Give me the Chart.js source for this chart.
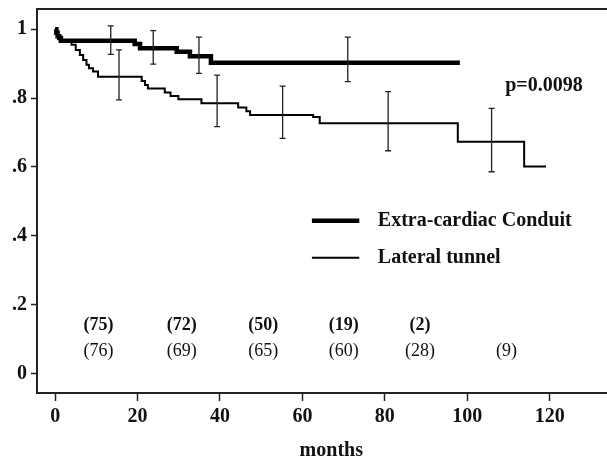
<!DOCTYPE html>
<html>
<head>
<meta charset="utf-8">
<script src="https://cdn.jsdelivr.net/npm/chart.js@4.4.1/dist/chart.umd.min.js"></script>
<style>
  html, body { margin: 0; padding: 0; background: #fff; }
  canvas { display: block; }
</style>
</head>
<body>
<canvas id="km" width="607" height="463"></canvas>
<script>
// Kaplan-Meier steps (months, survival)
const conduitTime = [0, 0.3, 0.6, 1.0, 1.4, 19.3, 20.6, 29.5, 32.7, 37.8, 98.2];
const conduitSurv = [1, 0.99, 0.98, 0.975, 0.967, 0.957, 0.945, 0.935, 0.922, 0.903, 0.903];

const tunnelTime = [0, 0.3, 0.6, 1.0, 1.4, 4.0, 5.0, 6.0, 6.8, 7.6, 8.2, 9.2, 10.4, 21.0, 21.8, 22.5, 26.6, 28.0, 29.9, 35.5, 44.4, 46.4, 47.3, 62.6, 64.2, 97.7, 113.8, 119.1];
const tunnelSurv = [1, 0.99, 0.98, 0.975, 0.967, 0.955, 0.94, 0.925, 0.911, 0.897, 0.887, 0.877, 0.862, 0.85, 0.838, 0.828, 0.816, 0.806, 0.797, 0.785, 0.773, 0.762, 0.751, 0.745, 0.727, 0.673, 0.601, 0.601];

// confidence bars
const conduitBarTime = [13.5, 23.8, 34.9, 71.0];
const conduitBarLow = [0.927, 0.899, 0.872, 0.848];
const conduitBarHigh = [1.010, 0.996, 0.977, 0.977];

const tunnelBarTime = [15.5, 39.3, 55.2, 80.8, 105.9];
const tunnelBarLow = [0.795, 0.717, 0.683, 0.647, 0.586];
const tunnelBarHigh = [0.940, 0.867, 0.835, 0.819, 0.770];

// numbers at risk
const riskTime = [10.5, 30.7, 50.5, 70.0, 88.5, 109.5];
const conduitRisk = [75, 72, 50, 19, 2];
const tunnelRisk = [76, 69, 65, 60, 28, 9];

const xTicks = [0, 20, 40, 60, 80, 100, 120];
const yTicks = [0, 0.2, 0.4, 0.6, 0.8, 1];
const yTickLabels = ['0', '.2', '.4', '.6', '.8', '1'];

const seriesNames = ['Extra-cardiac Conduit', 'Lateral tunnel'];
const pValue = 'p=0.0098';

const serif = "'Liberation Serif', 'Times New Roman', serif";

const toPoints = (xs, ys) => xs.map((x, i) => ({ x: x, y: ys[i] }));

const annotations = {
  id: 'annotations',
  afterDatasetsDraw(chart) {
    const ctx = chart.ctx;
    const xs = chart.scales.x;
    const ys = chart.scales.y;
    const px = v => xs.getPixelForValue(v);
    const py = v => ys.getPixelForValue(v);

    ctx.save();
    // error bars
    ctx.strokeStyle = '#222';
    ctx.lineWidth = 1.3;
    const bars = (t, lo, hi) => {
      t.forEach((tt, i) => {
        const x = px(tt), y1 = py(lo[i]), y2 = py(hi[i]);
        ctx.beginPath();
        ctx.moveTo(x, y1); ctx.lineTo(x, y2);
        ctx.moveTo(x - 3, y1); ctx.lineTo(x + 3, y1);
        ctx.moveTo(x - 3, y2); ctx.lineTo(x + 3, y2);
        ctx.stroke();
      });
    };
    bars(conduitBarTime, conduitBarLow, conduitBarHigh);
    bars(tunnelBarTime, tunnelBarLow, tunnelBarHigh);

    // p value
    ctx.fillStyle = '#111';
    ctx.textBaseline = 'middle';
    ctx.textAlign = 'center';
    ctx.font = 'bold 20px ' + serif;
    ctx.fillText(pValue, px(118.6), py(0.835));

    // legend
    const legY = [0.4436, 0.336];
    const legW = [4.5, 2];
    legY.forEach((ly, i) => {
      ctx.strokeStyle = '#000';
      ctx.lineWidth = legW[i];
      ctx.beginPath();
      ctx.moveTo(px(62.3), py(ly));
      ctx.lineTo(px(73.8), py(ly));
      ctx.stroke();
      ctx.textAlign = 'left';
      ctx.fillText(seriesNames[i], px(78.3), py(ly));
    });

    // numbers at risk
    ctx.textAlign = 'center';
    ctx.font = 'bold 18px ' + serif;
    conduitRisk.forEach((n, i) => ctx.fillText('(' + n + ')', px(riskTime[i]), py(0.141)));
    ctx.font = '18px ' + serif;
    tunnelRisk.forEach((n, i) => ctx.fillText('(' + n + ')', px(riskTime[i]), py(0.063)));

    // axis title
    ctx.font = 'bold 20px ' + serif;
    ctx.fillText('months', px(67), chart.height - 12);
    ctx.restore();
  }
};

new Chart(document.getElementById('km'), {
  type: 'line',
  data: {
    datasets: [
      {
        label: seriesNames[0],
        data: toPoints(conduitTime, conduitSurv),
        stepped: true,
        borderColor: '#000',
        borderWidth: 4.5,
        pointRadius: 0,
        fill: false
      },
      {
        label: seriesNames[1],
        data: toPoints(tunnelTime, tunnelSurv),
        stepped: true,
        borderColor: '#000',
        borderWidth: 2,
        pointRadius: 0,
        fill: false
      }
    ]
  },
  options: {
    responsive: false,
    animation: false,
    devicePixelRatio: 1,
    layout: { padding: 0 },
    plugins: {
      legend: { display: false },
      tooltip: { enabled: false }
    },
    scales: {
      x: {
        type: 'linear',
        position: 'bottom',
        min: -4.4,
        max: 133.9,
        afterBuildTicks: s => { s.ticks = xTicks.map(v => ({ value: v })); },
        afterFit: s => { s.height = 70; s.paddingLeft = 0; s.paddingRight = 0; },
        ticks: {
          autoSkip: false,
          maxRotation: 0,
          padding: 4,
          color: '#111',
          font: { family: serif, size: 20, weight: 'bold' }
        },
        grid: { drawOnChartArea: false, drawTicks: true, tickLength: 8, tickWidth: 1.5, color: '#222' },
        border: { display: true, color: '#222', width: 2 }
      },
      xTop: {
        type: 'linear',
        position: 'top',
        min: -4.4,
        max: 133.9,
        afterFit: s => { s.height = 9; s.paddingLeft = 0; s.paddingRight = 0; },
        ticks: { display: false },
        grid: { display: false, drawTicks: false },
        border: { display: true, color: '#222', width: 2 }
      },
      y: {
        type: 'linear',
        min: -0.057,
        max: 1.059,
        afterBuildTicks: s => { s.ticks = yTicks.map(v => ({ value: v })); },
        afterFit: s => { s.width = 37; s.paddingTop = 0; s.paddingBottom = 0; },
        ticks: {
          autoSkip: false,
          padding: 4,
          color: '#111',
          font: { family: serif, size: 20, weight: 'bold' },
          callback: v => yTickLabels[yTicks.findIndex(t => Math.abs(t - v) < 1e-6)]
        },
        grid: { drawOnChartArea: false, drawTicks: true, tickLength: 6, tickWidth: 1.5, color: '#222' },
        border: { display: true, color: '#222', width: 2 }
      }
    }
  },
  plugins: [annotations]
});
</script>
</body>
</html>
